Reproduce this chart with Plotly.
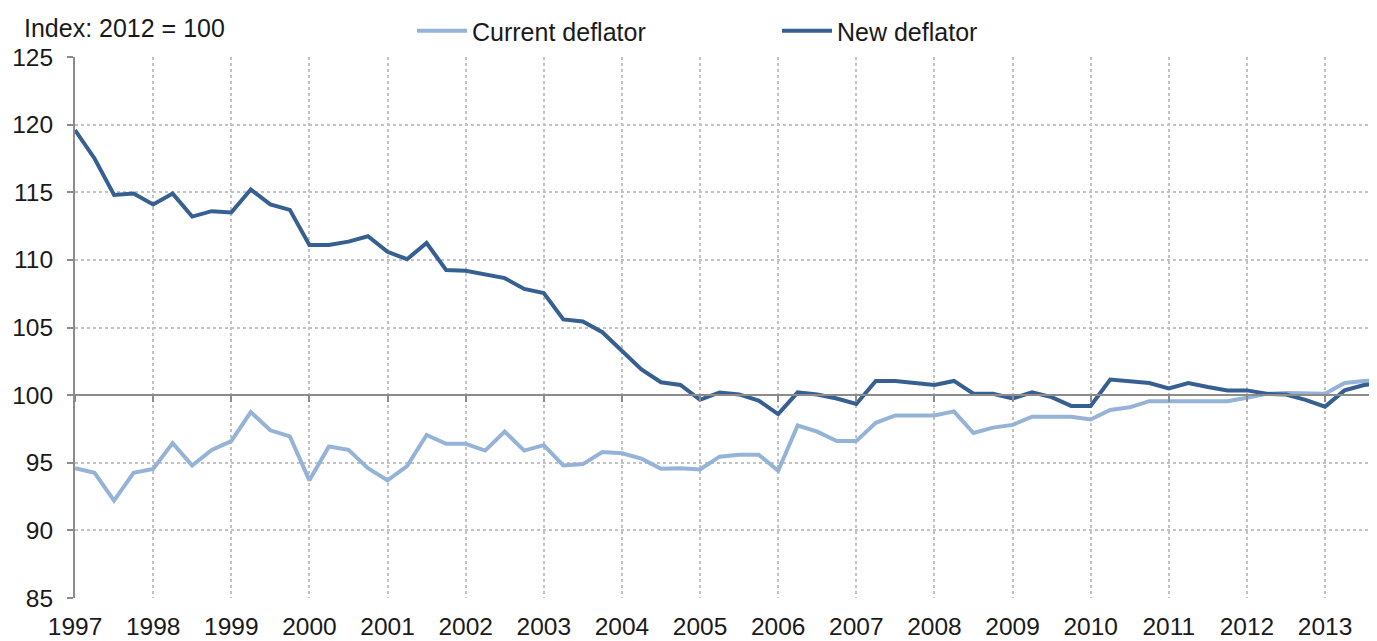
import plotly.graph_objects as go

# quarterly data, 1997 Q1 .. 2013 Q4
years = list(range(1997, 2014))
quarters = [f"{y} Q{q}" for y in years for q in range(1, 5)]

current_deflator = [
    94.6, 94.25, 92.2, 94.25,
    94.55, 96.45, 94.8, 95.95,
    96.6, 98.75, 97.4, 96.95,
    93.7, 96.2, 95.95, 94.6,
    93.7, 94.75, 97.05, 96.4,
    96.4, 95.9, 97.3, 95.9,
    96.3, 94.8, 94.9, 95.8,
    95.7, 95.3, 94.55, 94.6,
    94.5, 95.45, 95.6, 95.6,
    94.4, 97.75, 97.3, 96.6,
    96.6, 97.95, 98.5, 98.5,
    98.5, 98.8, 97.2, 97.6,
    97.8, 98.4, 98.4, 98.4,
    98.2, 98.9, 99.1, 99.55,
    99.55, 99.55, 99.55, 99.55,
    99.8, 100.1, 100.15, 100.15,
    100.1, 100.9, 101.05, 101.1,
]

new_deflator = [
    119.6, 117.5, 114.8, 114.9,
    114.1, 114.9, 113.2, 113.6,
    113.5, 115.2, 114.1, 113.7,
    111.1, 111.1, 111.35, 111.75,
    110.6, 110.05, 111.25, 109.25,
    109.2, 108.95, 108.65, 107.85,
    107.55, 105.6, 105.45, 104.65,
    103.3, 101.9, 100.95, 100.75,
    99.65, 100.2, 100.05, 99.6,
    98.6, 100.2, 100.05, 99.75,
    99.35, 101.05, 101.05, 100.9,
    100.75, 101.05, 100.1, 100.1,
    99.75, 100.2, 99.85, 99.2,
    99.2, 101.15, 101.0, 100.9,
    100.5, 100.9, 100.6, 100.35,
    100.35, 100.1, 100.05, 99.65,
    99.15, 100.35, 100.75, 100.9,
]

year_ticks = [f"{y} Q1" for y in years]
year_labels = [str(y) for y in years]

FONT = "Liberation Sans, Arial, sans-serif"
GRID = "#c3c3c3"
AXIS = "#8c8c8c"

fig = go.Figure()
fig.add_trace(go.Scatter(x=quarters, y=current_deflator, name="Current deflator",
                         mode="lines", line=dict(color="#95b3d7", width=4)))
fig.add_trace(go.Scatter(x=quarters, y=new_deflator, name="New deflator",
                         mode="lines", line=dict(color="#376092", width=4)))
# dummy trace so the crossing axis at 100 gets drawn
fig.add_trace(go.Scatter(x=quarters, y=[None] * len(quarters), xaxis="x2",
                         showlegend=False, hoverinfo="skip"))

# page body has an 8px margin, so margins are offset to compensate
xr = [0, 66.66]
fig.update_layout(
    width=1377, height=641,
    margin=dict(l=67, r=8, t=49, b=51, autoexpand=False),
    plot_bgcolor="white", paper_bgcolor="white",
    font=dict(family=FONT, size=24.5, color="#1a1a1a"),
    xaxis=dict(type="category", categoryorder="array", categoryarray=quarters,
               range=xr, tickmode="array", tickvals=year_ticks, ticktext=year_labels,
               showgrid=True, gridcolor=GRID, griddash="dot", gridwidth=1.5,
               showline=False, ticks="", ticklabelstandoff=11, zeroline=False,
               automargin=False),
    xaxis2=dict(type="category", categoryorder="array", categoryarray=quarters,
                range=xr, matches="x", overlaying="x", anchor="free", position=0.375,
                tickmode="array", tickvals=year_ticks, showticklabels=False,
                showgrid=False, showline=True, linecolor=AXIS, linewidth=2,
                ticks="outside", ticklen=6, tickwidth=2, tickcolor=AXIS, automargin=False),
    yaxis=dict(range=[85, 125], dtick=5, showgrid=True, gridcolor=GRID, griddash="dot",
               gridwidth=1.5, showline=True, linecolor=AXIS, linewidth=2,
               ticks="outside", ticklen=6, tickwidth=2, tickcolor=AXIS,
               ticklabelstandoff=9, zeroline=False, automargin=False),
    legend=dict(orientation="h", xref="container", yref="container",
                x=0.2934, y=0.9641, xanchor="left", yanchor="middle",
                itemwidth=50, entrywidth=300, font=dict(size=25),
                bgcolor="rgba(0,0,0,0)"),
    annotations=[dict(text="Index: 2012 = 100", xref="paper", yref="paper",
                      x=-0.0407, y=1.0536, xanchor="left", yanchor="middle",
                      showarrow=False, font=dict(size=25))],
)

fig.write_html("out.html")
